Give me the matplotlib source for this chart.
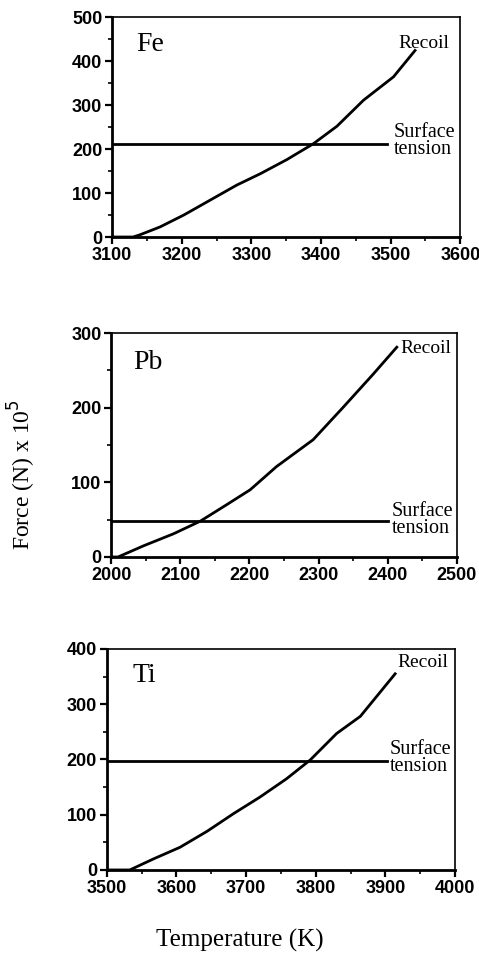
import numpy as np
import matplotlib
matplotlib.use("Agg")
import matplotlib.pyplot as plt
from matplotlib.ticker import MultipleLocator

# ── Data ─────────────────────────────────────────────────────────────────────
fe_T = [3100, 3130, 3140, 3169, 3203, 3241, 3279, 3313, 3351, 3389, 3423, 3461, 3504, 3535]
fe_F = [0, 0, 5, 23, 50, 84, 118, 144, 176, 212, 252, 311, 364, 424]
fe_surface = 212
fe_surface_T = [3100, 3495]

pb_T = [2000, 2010, 2047, 2090, 2129, 2167, 2201, 2239, 2292, 2335, 2379, 2413]
pb_F = [0, 0, 15, 31, 48, 70, 90, 121, 157, 200, 245, 281]
pb_surface = 48
pb_surface_T = [2000, 2400]

ti_T = [3500, 3533, 3567, 3605, 3644, 3682, 3720, 3758, 3792, 3830, 3864, 3914]
ti_F = [0, 0, 20, 41, 70, 102, 132, 165, 199, 247, 278, 355]
ti_surface = 197
ti_surface_T = [3500, 3902]

panels = [
    dict(name="Fe", T=fe_T, F=fe_F, st=fe_surface, stT=fe_surface_T,
         xlim=(3100, 3600), ylim=(0, 500), ymaj=100,
         rect=[0.234, 0.7526, 0.727, 0.2296],
         name_pos=(0.07, 0.873), rec_pos=(0.822, 0.88), st_pos=(0.808, 0.436)),
    dict(name="Pb", T=pb_T, F=pb_F, st=pb_surface, stT=pb_surface_T,
         xlim=(2000, 2500), ylim=(0, 300), ymaj=100,
         rect=[0.232, 0.4186, 0.722, 0.2338],
         name_pos=(0.064, 0.87), rec_pos=(0.835, 0.933), st_pos=(0.812, 0.165)),
    dict(name="Ti", T=ti_T, F=ti_F, st=ti_surface, stT=ti_surface_T,
         xlim=(3500, 4000), ylim=(0, 400), ymaj=100,
         rect=[0.223, 0.0919, 0.727, 0.2307],
         name_pos=(0.075, 0.882), rec_pos=(0.833, 0.937), st_pos=(0.813, 0.507)),
]

SERIF = ["Liberation Serif", "DejaVu Serif"]
TICKFONT = "Liberation Sans"

fig = plt.figure(figsize=(4.79, 9.58), dpi=100)

for p in panels:
    ax = fig.add_axes(p["rect"])
    ax.plot(p["T"], p["F"], color="black", lw=2.0)
    ax.plot(p["stT"], [p["st"], p["st"]], color="black", lw=2.0)
    ax.set_xlim(*p["xlim"])
    ax.set_ylim(*p["ylim"])
    ax.xaxis.set_major_locator(MultipleLocator(100))
    ax.xaxis.set_minor_locator(MultipleLocator(50))
    ax.yaxis.set_major_locator(MultipleLocator(p["ymaj"]))
    ax.yaxis.set_minor_locator(MultipleLocator(p["ymaj"] / 2))
    ax.tick_params(which="major", direction="out", length=5, width=1.6,
                   top=False, right=False, pad=2)
    ax.tick_params(which="minor", direction="out", length=3, width=1.2,
                   top=False, right=False)
    for side in ("left", "bottom"):
        ax.spines[side].set_linewidth(2.0)
    for side in ("top", "right"):
        ax.spines[side].set_linewidth(1.2)
    for lbl in ax.get_xticklabels() + ax.get_yticklabels():
        lbl.set_fontfamily(TICKFONT)
        lbl.set_fontweight("bold")
        lbl.set_fontsize(13)

    ax.text(*p["name_pos"], p["name"], transform=ax.transAxes, family=SERIF,
            fontsize=20, ha="left", va="center")
    ax.text(*p["rec_pos"], "Recoil", transform=ax.transAxes, family=SERIF,
            fontsize=14, ha="left", va="center")
    ax.text(*p["st_pos"], "Surface\ntension", transform=ax.transAxes, family=SERIF,
            fontsize=14.5, ha="left", va="center", linespacing=0.88)

fig.text(0.046, 0.505, r"Force (N) x 10$^5$", rotation=90, family=SERIF,
         fontsize=17, ha="center", va="center")
fig.text(0.50, 0.018, "Temperature (K)", family=SERIF, fontsize=18,
         ha="center", va="center")

fig.savefig("out.png", dpi=100)
